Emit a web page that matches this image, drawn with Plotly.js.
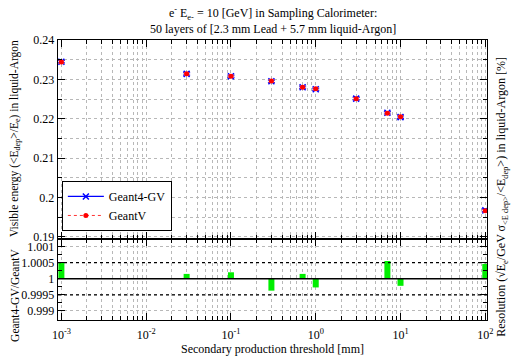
<!DOCTYPE html>
<html>
<head>
<meta charset="utf-8">
<script src="https://cdn.plot.ly/plotly-3.0.1.min.js"></script>
<style>html,body{margin:0;padding:0;background:#fff;}#chart{width:514px;height:356px;}</style>
</head>
<body>
<div id="chart"></div>
<script>
// Secondary production thresholds [mm]
const thresholds = [0.001, 0.03, 0.1, 0.3, 0.7, 1, 3, 7, 10, 100];
// Visible energy fraction <E_dep>/E_e
const visGeant4GV = [0.2345, 0.2314, 0.2308, 0.2295, 0.2280, 0.2275, 0.2251, 0.2215, 0.2204, 0.1967];
const visGeantV   = [0.2344, 0.2314, 0.2308, 0.2296, 0.2280, 0.2276, 0.2251, 0.2214, 0.2205, 0.1966];
const errGeant4GV = [0.0003, 0.0003, 0.0003, 0.0003, 0.0003, 0.0003, 0.0003, 0.0003, 0.0003, 0.0003];
const errGeantV   = [0.0003, 0.0003, 0.0003, 0.0003, 0.0003, 0.0003, 0.0003, 0.0003, 0.0003, 0.0003];
// Ratio Geant4-GV / GeantV
const ratio = [1.00049, 1.00015, 1.0002, 0.99963, 1.00015, 0.99973, 1.00001, 1.00055, 0.99978, 1.00046];
// Tick labels
const xTickVals = [0.001, 0.01, 0.1, 1, 10, 100];
const xTickText = ['10<sup>-3</sup>', '10<sup>-2</sup>', '10<sup>-1</sup>', '10<sup>0</sup>', '10<sup>1</sup>', '10<sup>2</sup>'];
const rTickVals = [0.999, 0.9995, 1, 1.0005, 1.001];
const rTickText = ['0.999', '0.9995', '1', '1.0005', '1.001'];
const vTickVals = [0.19, 0.2, 0.21, 0.22, 0.23, 0.24];
const vTickText = ['0.19', '0.2', '0.21', '0.22', '0.23', '0.24'];

// isolate points (null separators) so the legend can show a line sample without joining points
const sep = arr => arr.flatMap(v => [v, null]);

// build bar segments from ratio to 1
const barX = [], barY = [];
thresholds.forEach((t, i) => { barX.push(t, t, null); barY.push(1, ratio[i], null); });

const serif = 'Liberation Serif, Times New Roman, serif';

const traces = [
  {
    x: sep(thresholds), y: sep(visGeant4GV), xaxis: 'x2', yaxis: 'y2', mode: 'lines+markers', name: 'Geant4-GV',
    connectgaps: false, line: {color: '#0000ff', width: 1.2},
    marker: {symbol: 'x-thin-open', size: 6, color: '#0000ff', line: {color: '#0000ff', width: 1.5}},
    error_y: {type: 'data', array: sep(errGeant4GV), visible: true, color: '#0000ff', thickness: 1.2, width: 3.5}
  },
  {
    x: sep(thresholds), y: sep(visGeantV), xaxis: 'x2', yaxis: 'y2', mode: 'lines+markers', name: 'GeantV',
    connectgaps: false, line: {color: '#ff3333', width: 1, dash: 'dot'},
    marker: {symbol: 'circle', size: 5, color: '#ff0000'},
    error_y: {type: 'data', array: sep(errGeantV), visible: true, color: '#ff6666', thickness: 1, width: 3}
  },
  {
    x: barX, y: barY, xaxis: 'x', yaxis: 'y', mode: 'lines', showlegend: false, connectgaps: false,
    line: {color: '#00ee00', width: 6}
  }
];

const gridCol = '#b8b8b8';
const xCommon = {
  type: 'log', range: [-3.04, 2.02], showline: true, linecolor: '#000', linewidth: 1.3,
  mirror: 'allticks', ticks: 'inside', ticklen: 7, tickwidth: 1, tickcolor: '#000',
  tickvals: xTickVals, ticktext: xTickText, ticklabelstandoff: 3,
  showgrid: true, gridcolor: gridCol, griddash: 'dot', gridwidth: 1, zeroline: false,
  minor: {ticks: 'inside', ticklen: 4, tickcolor: '#000', dtick: 'D1', showgrid: true, gridcolor: gridCol, griddash: 'dot', gridwidth: 1},
  tickfont: {family: serif, size: 12, color: '#000'}
};

const layout = {
  width: 514, height: 356,
  margin: {l: 58, r: 27, t: 40, b: 36},
  paper_bgcolor: '#fff', plot_bgcolor: '#fff',
  font: {family: serif, size: 12, color: '#000'},
  showlegend: true,
  xaxis: Object.assign({}, xCommon, {
    anchor: 'y', domain: [0, 1],
    title: {text: 'Secondary production threshold [mm]', font: {family: serif, size: 12}, standoff: 2}
  }),
  xaxis2: Object.assign({}, xCommon, {anchor: 'y2', domain: [0, 1], matches: 'x', showticklabels: false}),
  yaxis: {
    anchor: 'x', domain: [0, 0.289], range: [0.99872, 1.00123],
    tickvals: rTickVals, ticktext: rTickText,
    showline: true, linecolor: '#000', linewidth: 1.3, mirror: 'allticks', ticks: 'inside', ticklen: 7, tickcolor: '#000',
    showgrid: true, gridcolor: gridCol, griddash: 'dot', zeroline: false,
    minor: {ticks: 'inside', ticklen: 4, tickcolor: '#000', dtick: 0.00025, showgrid: false},
    tickfont: {family: serif, size: 12, color: '#000'}
  },
  yaxis2: {
    anchor: 'x2', domain: [0.289, 1], range: [0.1894, 0.24001],
    tickvals: vTickVals, ticktext: vTickText,
    showline: true, linecolor: '#000', linewidth: 1.3, mirror: 'allticks', ticks: 'inside', ticklen: 7, tickcolor: '#000',
    showgrid: true, gridcolor: gridCol, griddash: 'dot', zeroline: false,
    minor: {ticks: 'inside', ticklen: 4, tickcolor: '#000', dtick: 0.005, showgrid: true, gridcolor: gridCol, griddash: 'dot'},
    tickfont: {family: serif, size: 12, color: '#000'}
  },
  legend: {
    x: 0.009, y: 0.318, xanchor: 'left', yanchor: 'bottom',
    bgcolor: '#fff', bordercolor: '#000', borderwidth: 1,
    font: {family: serif, size: 12, color: '#000'}, tracegroupgap: 0, itemwidth: 36
  },
  shapes: [
    {type: 'line', xref: 'x domain', yref: 'y', x0: 0, x1: 1, y0: 1, y1: 1, line: {color: '#000', width: 1.5}},
    {type: 'line', xref: 'x domain', yref: 'y', x0: 0, x1: 1, y0: 1.0005, y1: 1.0005, line: {color: '#000', width: 1.2, dash: 'dot'}},
    {type: 'line', xref: 'x domain', yref: 'y', x0: 0, x1: 1, y0: 0.9995, y1: 0.9995, line: {color: '#000', width: 1.2, dash: 'dot'}}
  ],
  annotations: [
    {
      text: 'e<sup>-</sup> E<sub>e-</sub> = 10 [GeV] in Sampling Calorimeter:<br>50 layers of [2.3 mm Lead + 5.7 mm liquid-Argon]',
      xref: 'paper', yref: 'paper', x: 0.5, y: 1, yshift: 2, xanchor: 'center', yanchor: 'bottom',
      showarrow: false, font: {family: serif, size: 12, color: '#000'}
    },
    {
      text: 'Visible energy (&lt;E<sub>dep</sub>&gt;/E<sub>e</sub>) in liquid-Argon',
      xref: 'paper', yref: 'paper', x: 0, xshift: -43, y: 0.646, xanchor: 'center', yanchor: 'middle',
      textangle: -90, showarrow: false, font: {family: serif, size: 11.5, color: '#000'}
    },
    {
      text: 'Geant4-GV/GeantV',
      xref: 'paper', yref: 'paper', x: 0, xshift: -43, y: 0.086, xanchor: 'center', yanchor: 'middle',
      textangle: -90, showarrow: false, font: {family: serif, size: 11.5, color: '#000'}
    },
    {
      text: 'Resolution (√E<sub>e</sub>/GeV σ<sub>&lt;E dep&gt;</sub>/&lt;E<sub>dep</sub>&gt;) in liquid-Argon [%]',
      xref: 'paper', yref: 'paper', x: 1, xshift: 15, y: 0.44, xanchor: 'center', yanchor: 'middle',
      textangle: -90, showarrow: false, font: {family: serif, size: 12, color: '#000'}
    }
  ]
};

Plotly.newPlot('chart', traces, layout, {displayModeBar: false, staticPlot: true});
</script>
</body>
</html>
